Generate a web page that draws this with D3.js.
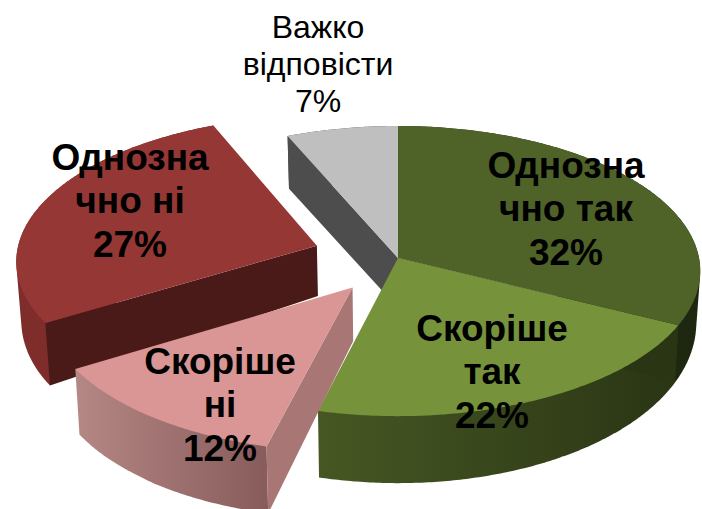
<!DOCTYPE html>
<html>
<head>
<meta charset="utf-8">
<script src="https://cdn.jsdelivr.net/npm/d3@7"></script>
<style>
html, body { margin: 0; padding: 0; background: #fff; }
svg { display: block; }
text { font-family: "Liberation Sans", Arial, sans-serif; fill: #000; text-anchor: middle; }
</style>
</head>
<body>
<svg width="702" height="509"></svg>
<script>
var categories = ["Однозначно так", "Скоріше так", "Скоріше ні", "Однозначно ні", "Важко відповісти"];
var values = [32.4, 21.5, 12.4, 27.2, 6.5];
var labelLines = [["Однозна", "чно так"], ["Скоріше", "так"], ["Скоріше", "ні"], ["Однозна", "чно ні"], ["Важко", "відповісти"]];

var explode = [0, 0, 0.25, 0.285, 0];
var topColors = ["#4f6228", "#76933c", "#d99694", "#953735", "#bfbfbf"];
var sideColors = [["#2b3716", "#1d2710"], ["#465723", "#2a3514"], ["#b58785", "#875c5b"], ["#7f2d2b", "#7f2d2b"], ["#4d4d4d", "#4d4d4d"]];
var wallColors = ["#1d2710", "#2a3514", "#a87674", "#4a1a18", "#4d4d4d"];
var labelPos = [[566, 208], [492, 371], [220, 404], [130, 200], [318, 64]];
var drawOrder = [4, 0, 1, 3, 2];

// ground plane -> screen, a plain perspective so the near half comes out bigger
var persp = 0.09;
var x = d3.scaleLinear().domain([-1, 1]).range([97, 699]);
var y = d3.scaleLinear().domain([-1, 1]).range([258 - 143.9, 258 + 143.9]);
var baseShrink = 0.987;

function project(u, v, bottom) {
	var w = 1 - persp * v;
	var px = x(u / w);
	var py = y(v / w);
	if (bottom) {
		var t = Math.max(0, Math.min(1, v));
		px = x(0) + (px - x(0)) * baseShrink;
		py += 50 + 17 * t + 3 * Math.max(0, -v) + 16 * Math.max(0, -u - 0.8);
	}
	return [px, py];
}

function slicePoint(d, angle, radius, bottom) {
	var mid = (d.startAngle + d.endAngle) / 2;
	var e = explode[d.index];
	return project(radius * Math.sin(angle) + e * Math.sin(mid), -radius * Math.cos(angle) + e * -Math.cos(mid), bottom);
}

function arcAngles(d) {
	var n = Math.ceil((d.endAngle - d.startAngle) / 0.01);
	return d3.range(n + 1).map(function (i) { return d.startAngle + (d.endAngle - d.startAngle) * i / n; });
}

var pie = d3.pie().sort(null).value(function (d) { return d; }).startAngle(0).endAngle(2 * Math.PI);
var slices = pie(values);
slices.forEach(function (d, i) { d.index = i; });
var line = d3.line();

var svg = d3.select("svg");
var defs = svg.append("defs");

function sideGradient(d) {
	var id = "side" + d.index;
	var pts = arcAngles(d).map(function (a) { return slicePoint(d, a, 1, false)[0]; });
	var g = defs.append("linearGradient").attr("id", id)
		.attr("gradientUnits", "userSpaceOnUse")
		.attr("x1", d3.min(pts)).attr("x2", d3.max(pts))
		.attr("y1", 0).attr("y2", 0);
	g.append("stop").attr("offset", 0).attr("stop-color", sideColors[d.index][0]);
	g.append("stop").attr("offset", 1).attr("stop-color", sideColors[d.index][1]);
	return "url(#" + id + ")";
}

function wallPath(d, angle) {
	return line([
		slicePoint(d, angle, 0, false),
		slicePoint(d, angle, 1, false),
		slicePoint(d, angle, 1, true),
		slicePoint(d, angle, 0, true)
	]) + "Z";
}

// hull so the side keeps its silhouette at the far left and right of the ellipse
function sidePath(d) {
	var angles = arcAngles(d);
	var top = angles.map(function (a) { return slicePoint(d, a, 1, false); });
	var bot = angles.map(function (a) { return slicePoint(d, a, 1, true); });
	return line(d3.polygonHull(top.concat(bot))) + "Z";
}

function topPath(d) {
	var pts = arcAngles(d).map(function (a) { return slicePoint(d, a, 1, false); });
	pts.unshift(slicePoint(d, d.startAngle, 0, false));
	return line(pts) + "Z";
}

drawOrder.forEach(function (i) {
	var d = slices[i];
	var g = svg.append("g").attr("class", "slice").attr("data-name", categories[i]);
	g.append("path").attr("d", sidePath(d)).attr("fill", sideGradient(d));
	// the start side is the only cut wall that faces us
	g.append("path").attr("d", wallPath(d, d.startAngle)).attr("fill", wallColors[i]);
	g.append("path").attr("d", topPath(d)).attr("fill", topColors[i]);
});

// labels sit above every slice
var labels = svg.selectAll("text.label")
	.data(slices)
	.enter()
	.append("text")
	.attr("class", "label")
	.attr("font-weight", function (d) { return d.index === 4 ? "normal" : "bold"; })
	.attr("font-size", function (d) { return d.index === 4 ? 32 : 37; });

labels.each(function (d) {
	var lines = labelLines[d.index].concat([Math.round(values[d.index]) + "%"]);
	var pos = labelPos[d.index];
	var step = d.index === 4 ? 37 : 43.5;
	d3.select(this).selectAll("tspan")
		.data(lines)
		.enter()
		.append("tspan")
		.attr("x", pos[0])
		.attr("y", function (t, j) { return pos[1] + (j - 1) * step + (d.index === 4 ? 11 : 13); })
		.text(function (t) { return t; });
});
</script>
</body>
</html>
